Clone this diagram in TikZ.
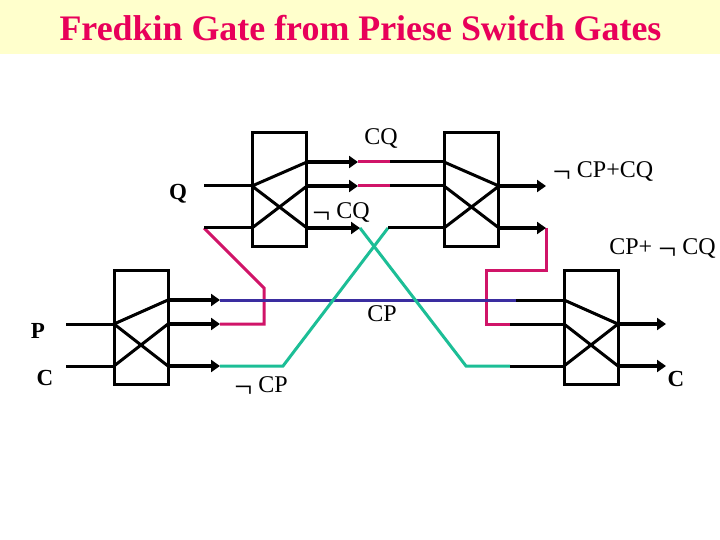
\documentclass[tikz,border=0pt]{standalone}
\usepackage{fontspec}
\setmainfont{Liberation Serif}
\usetikzlibrary{arrows.meta}
\definecolor{bandcol}{RGB}{255,255,204}
\definecolor{titlecol}{RGB}{232,0,90}
\definecolor{pinkwire}{RGB}{208,20,104}
\definecolor{greenwire}{RGB}{28,190,150}
\definecolor{bluewire}{RGB}{58,45,160}
\newcommand{\negsign}{\raisebox{-5pt}{\fontsize{32}{32}\selectfont ¬}}
\tikzset{
  lab/.style={font=\fontsize{24}{24}\selectfont, inner sep=0pt},
  blab/.style={font=\fontsize{23}{23}\selectfont\bfseries, inner sep=0pt},
  gatebox/.style={draw, line width=3pt, minimum width=54pt, minimum height=114pt, inner sep=0pt, outer sep=0pt},
  wire/.style={line width=3pt},
  outwire/.style={line width=3.8pt, -{Triangle[length=9pt,width=12pt]}},
  pinkline/.style={line width=3pt, pinkwire, line join=miter},
  greenline/.style={line width=3pt, greenwire},
  blueline/.style={line width=3pt, bluewire}
}
\begin{document}
\begin{tikzpicture}[x=1pt, y=-1pt]
  \useasboundingbox (0,0) rectangle (720,540);
  \fill[bandcol] (0,0) rectangle (720,54);
  \node[font=\fontsize{35.9}{35.9}\selectfont\bfseries, text=titlecol, inner sep=0pt] (title) at (360.5,28.5) {Fredkin Gate from Priese Switch Gates};

  % the four switch boxes
  \node[gatebox] (gatea) at (279.5,189.5) {};
  \node[gatebox] (gateb) at (471.5,189.5) {};
  \node[gatebox] (gatec) at (141,327) {};
  \node[gatebox] (gated) at (591,327) {};

  % pins of gate a
  \coordinate (ainu) at (252,186);
  \coordinate (ainl) at (252,228);
  \coordinate (aoutt) at (307,162);
  \coordinate (aoutm) at (307,186);
  \coordinate (aoutb) at (307,228);
  % pins of gate c
  \coordinate (cinu) at (114,324);
  \coordinate (cinl) at (114,366);
  \coordinate (coutt) at (168,300);
  \coordinate (coutm) at (168,324);
  \coordinate (coutb) at (168,366);
  % pins of gate b
  \coordinate (bint) at (444,162);
  \coordinate (binm) at (444,186);
  \coordinate (binb) at (444,228);
  \coordinate (boutu) at (499,186);
  \coordinate (boutl) at (499,228);
  % pins of gate d
  \coordinate (dint) at (564,300);
  \coordinate (dinm) at (564,324);
  \coordinate (dinb) at (564,366);
  \coordinate (doutu) at (618,324);
  \coordinate (doutl) at (618,366);

  % free ends and bends
  \coordinate (qin) at (204,186);
  \coordinate (ain) at (204,228);
  \coordinate (pin) at (66,324);
  \coordinate (cin) at (66,366);
  \coordinate (atop) at (358,162);
  \coordinate (amid) at (358,186);
  \coordinate (abot) at (360,228);
  \coordinate (btop) at (390,162);
  \coordinate (bmid) at (390,186);
  \coordinate (bbot) at (388,228);
  \coordinate (ctop) at (220,300);
  \coordinate (cmid) at (220,324);
  \coordinate (cbot) at (220,366);
  \coordinate (dtop) at (516,300);
  \coordinate (dmid) at (510,324);
  \coordinate (dbot) at (510,366);
  \coordinate (bupend) at (546,186);
  \coordinate (blowend) at (546,228);
  \coordinate (dupend) at (666,324);
  \coordinate (dlowend) at (666,366);

  % coloured wires first
  \draw[pinkline] (atop) -- (btop);
  \draw[pinkline] (amid) -- (bmid);
  \draw[pinkline] (ain) -- (264,288) -- (264,324) -- (cmid);
  \draw[pinkline] (blowend) -- (546,270) -- (486,270) -- (486,324) -- (dmid);
  \draw[blueline] (ctop) -- (dtop);
  \draw[greenline] (cbot) -- (283,366) -- (bbot);
  \draw[greenline] (abot) -- (466,366) -- (dbot);

  % black wires
  \draw[wire] (qin) -- (ainu);
  \draw[wire] (ain) -- (ainl);
  \draw[wire] (pin) -- (cinu);
  \draw[wire] (cin) -- (cinl);
  \draw[wire] (btop) -- (bint);
  \draw[wire] (bmid) -- (binm);
  \draw[wire] (bbot) -- (binb);
  \draw[wire] (dtop) -- (dint);
  \draw[wire] (dmid) -- (dinm);
  \draw[wire] (dbot) -- (dinb);

  % insides of the boxes
  \draw[wire] (aoutt) -- (ainu) -- (aoutb);
  \draw[wire] (ainl) -- (aoutm);
  \draw[wire] (coutt) -- (cinu) -- (coutb);
  \draw[wire] (cinl) -- (coutm);
  \draw[wire] (bint) -- (boutu) -- (binb);
  \draw[wire] (binm) -- (boutl);
  \draw[wire] (dint) -- (doutu) -- (dinb);
  \draw[wire] (dinm) -- (doutl);

  % outputs
  \draw[outwire] (aoutt) -- (atop);
  \draw[outwire] (aoutm) -- (amid);
  \draw[outwire] (aoutb) -- (abot);
  \draw[outwire] (coutt) -- (ctop);
  \draw[outwire] (coutm) -- (cmid);
  \draw[outwire] (coutb) -- (cbot);
  \draw[outwire] (boutu) -- (bupend);
  \draw[outwire] (boutl) -- (blowend);
  \draw[outwire] (doutu) -- (dupend);
  \draw[outwire] (doutl) -- (dlowend);

  % labels
  \node[lab] (cqtop) at (381,139) {CQ};
  \node[lab] (ncqa) at (341,213) {\negsign{} CQ};
  \node[lab] (ncpcq) at (603,172) {\negsign{} CP+CQ};
  \node[lab] (cpncq) at (662.5,249) {CP+ \negsign{} CQ};
  \node[lab] (cpmid) at (382,314) {CP};
  \node[lab] (ncp) at (261,387) {\negsign{} CP};
  \node[blab] (qlab) at (178,194) {Q};
  \node[blab] (plab) at (38,331) {P};
  \node[blab] (clab) at (45,378) {C};
  \node[blab] (coutlab) at (676,379) {C};
\end{tikzpicture}
\end{document}
